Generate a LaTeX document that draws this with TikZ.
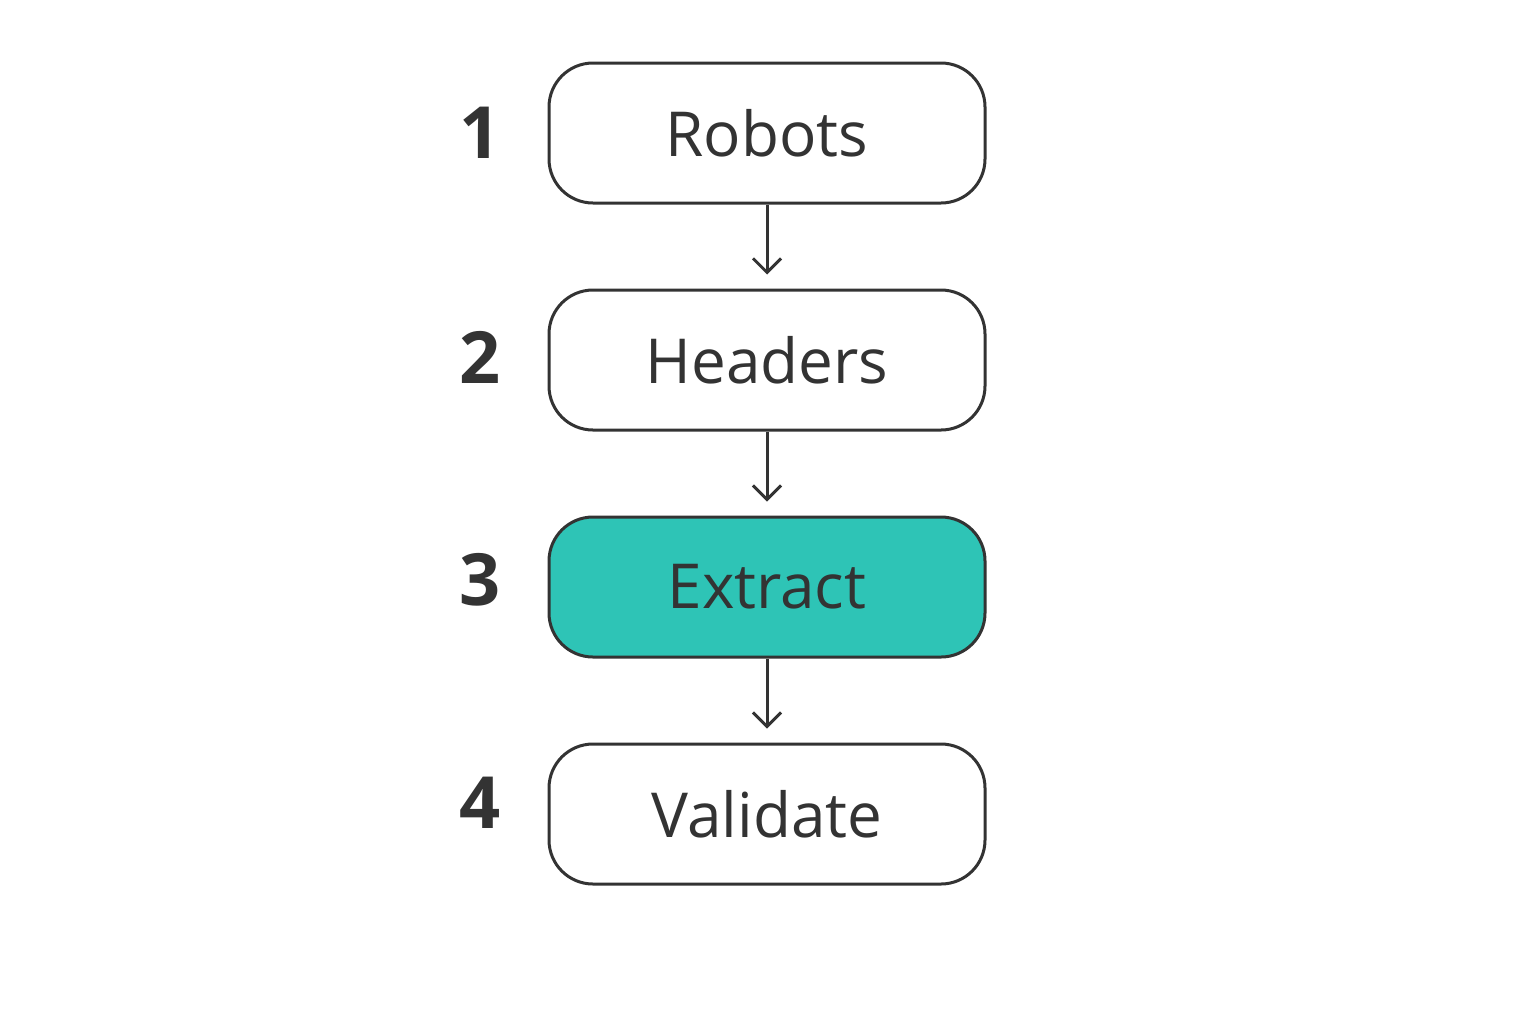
\documentclass[tikz,border=0pt]{standalone}
\usepackage{fontspec}
\setmainfont{Open Sans}
\usetikzlibrary{positioning,arrows.meta}
\definecolor{ink}{HTML}{333333}
\definecolor{teal}{HTML}{2EC4B6}
\begin{document}
\begin{tikzpicture}[x=0.5pt,y=-0.5pt,
        font=\fontsize{31}{36}\selectfont,
        stepbox/.style={draw=ink,line width=1.5pt,rounded corners=22pt,
            minimum width=218pt,minimum height=70pt,text=ink,fill=white},
        numlabel/.style={text=ink,font=\fontsize{36}{40}\selectfont\bfseries},
        flow/.style={draw=ink,line width=1.5pt,-{Straight Barb[length=7pt,width=14pt]},shorten >=7pt}]
    \useasboundingbox (0,0) rectangle (1536,1024);

    \node[stepbox] (robots) at (767,133) {Robots};
    \node[stepbox,below=42pt of robots] (headers) {Headers};
    \node[stepbox,below=42pt of headers,fill=teal] (extract) {Extract};
    \node[stepbox,below=42pt of extract] (validate) {Validate};

    \node[numlabel] (n1) at (480,133) {1};
    \node[numlabel] (n2) at (480,357) {2};
    \node[numlabel] (n3) at (480,580) {3};
    \node[numlabel] (n4) at (480,803) {4};

    \draw[flow] (robots) -- (headers);
    \draw[flow] (headers) -- (extract);
    \draw[flow] (extract) -- (validate);
\end{tikzpicture}
\end{document}
